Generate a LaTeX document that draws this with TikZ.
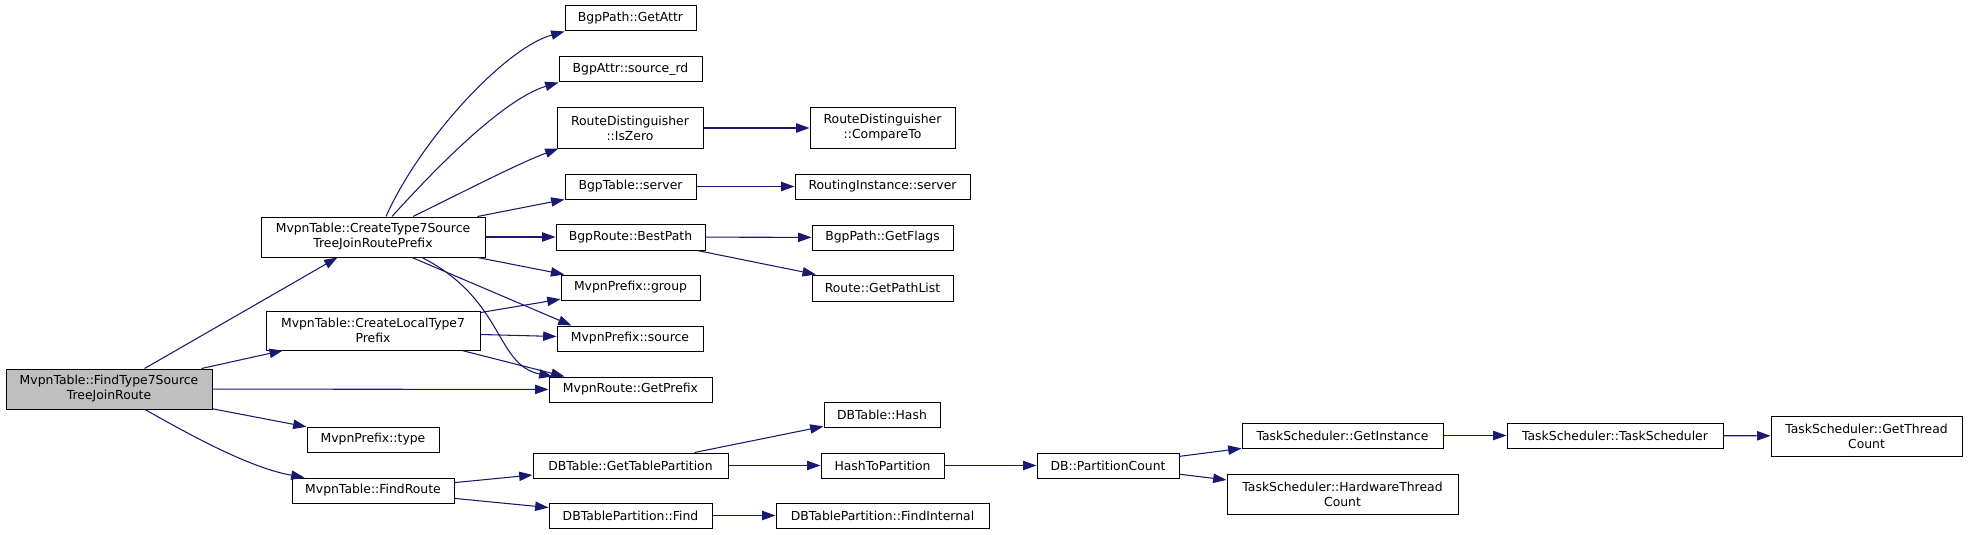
\documentclass[tikz,border=0pt]{standalone}
\usepackage{fontspec}
\setmainfont{DejaVu Sans}
\usetikzlibrary{arrows.meta,calc}
\definecolor{edgeblue}{HTML}{191970}
\definecolor{focusgrey}{HTML}{BFBFBF}
\tikzset{
  box/.style={draw=black,fill=white,line width=0.75pt,inner sep=0pt,align=center,
    font=\fontsize{9.3}{11.25}\selectfont},
  focus/.style={fill=focusgrey},
  call/.style={draw=edgeblue,line width=0.8pt,-{Triangle[length=10pt,width=7pt]}},
}
\newcommand\fn[7][]{\node[box,#1,minimum width={(#5-#3)*0.75pt},minimum height={(#6-#4)*0.75pt}] (#2) at ({(#3+#5)/2},{(#4+#6)/2}) {#7};}
\begin{document}
\begin{tikzpicture}[x=0.75pt,y=-0.75pt]
\useasboundingbox (0,0) rectangle (1968,535);
% nodes
\fn[focus]{F}{6}{369}{212}{409}{MvpnTable::FindType7Source\\TreeJoinRoute}
\fn{C7}{261}{217}{485}{257}{MvpnTable::CreateType7Source\\TreeJoinRoutePrefix}
\fn{CL}{266}{311}{480}{350}{MvpnTable::CreateLocalType7\\Prefix}
\fn{MT}{307}{427}{439}{452}{MvpnPrefix::type}
\fn{FR}{292}{478}{454}{503}{MvpnTable::FindRoute}
\fn{GA}{565}{6}{696}{31}{BgpPath::GetAttr}
\fn{SRD}{559}{57}{702}{82}{BgpAttr::source\_rd}
\fn{IZ}{557}{108}{703}{148}{RouteDistinguisher\\::IsZero}
\fn{BT}{565}{174}{696}{199}{BgpTable::server}
\fn{BP}{556}{224}{705}{250}{BgpRoute::BestPath}
\fn{MG}{561}{275}{700}{300}{MvpnPrefix::group}
\fn{MS}{557}{326}{703}{351}{MvpnPrefix::source}
\fn{GP}{549}{377}{712}{402}{MvpnRoute::GetPrefix}
\fn{GTP}{533}{453}{728}{478}{DBTable::GetTablePartition}
\fn{DTF}{549}{503}{712}{528}{DBTablePartition::Find}
\fn{CT}{810}{108}{955}{148}{RouteDistinguisher\\::CompareTo}
\fn{RIS}{795}{174}{970}{199}{RoutingInstance::server}
\fn{GFl}{812}{225}{953}{250}{BgpPath::GetFlags}
\fn{GPL}{812}{275}{953}{301}{Route::GetPathList}
\fn{DH}{824}{402}{940}{427}{DBTable::Hash}
\fn{HTP}{821}{453}{944}{478}{HashToPartition}
\fn{FI}{776}{503}{989}{528}{DBTablePartition::FindInternal}
\fn{PC}{1037}{453}{1179}{478}{DB::PartitionCount}
\fn{GI}{1242}{423}{1443}{448}{TaskScheduler::GetInstance}
\fn{HTC}{1227}{474}{1458}{514}{TaskScheduler::HardwareThread\\Count}
\fn{TS}{1507}{423}{1723}{448}{TaskScheduler::TaskScheduler}
\fn{GTC}{1771}{416}{1962}{456}{TaskScheduler::GetThread\\Count}
% edges from FindType7SourceTreeJoinRoute
\draw[call] (F) -- (C7);
\draw[call] (F) -- (CL);
\draw[call] (F) -- (GP);
\draw[call] (F) -- (MT);
\draw[call] ($(F.south)+(36,0)$) .. controls (190,435) and (250,468) .. ($(FR.north west)+(13,0)$);
% edges from CreateType7SourceTreeJoinRoutePrefix
\draw[call] ($(C7.north)+(13,0)$) .. controls (420,140) and (505,48) .. (GA.south west);
\draw[call] ($(C7.north)+(19,0)$) .. controls (425,180) and (500,100) .. (SRD.south west);
\draw[call] ($(C7.north)+(40,0)$) .. controls (453,197) and (519,163) .. ($(IZ.south west)+(2,0)$);
\draw[call] (C7) -- (BT);
\draw[call] (C7) -- (BP);
\draw[call] (C7) -- (MG);
\draw[call] ($(C7.south)+(39,0)$) -- ($(MS.north west)+(15,0)$);
\draw[call] ($(C7.south)+(49,0)$) .. controls (505,300) and (495,365) .. ($(GP.north west)+(4,0)$);
% edges from CreateLocalType7Prefix
\draw[call] (CL) -- (MG);
\draw[call] ($(CL.east)+(0,4)$) -- ($(MS.west)+(0,-2)$);
\draw[call] ($(CL.south)+(89,0)$) -- ($(GP.north west)+(16,0)$);
% edges from FindRoute
\draw[call] (FR) -- (GTP);
\draw[call] (FR) -- (DTF);
% second level
\draw[call] (IZ) -- (CT);
\draw[call] (BT) -- (RIS);
\draw[call] (BP) -- (GFl);
\draw[call] (BP) -- (GPL);
\draw[call] (GTP) -- (DH);
\draw[call] (GTP) -- (HTP);
\draw[call] (DTF) -- (FI);
\draw[call] (HTP) -- (PC);
\draw[call] (PC) -- (GI);
\draw[call] (PC) -- (HTC);
\draw[call] (GI) -- (TS);
\draw[call] (TS) -- (GTC);
\end{tikzpicture}
\end{document}
